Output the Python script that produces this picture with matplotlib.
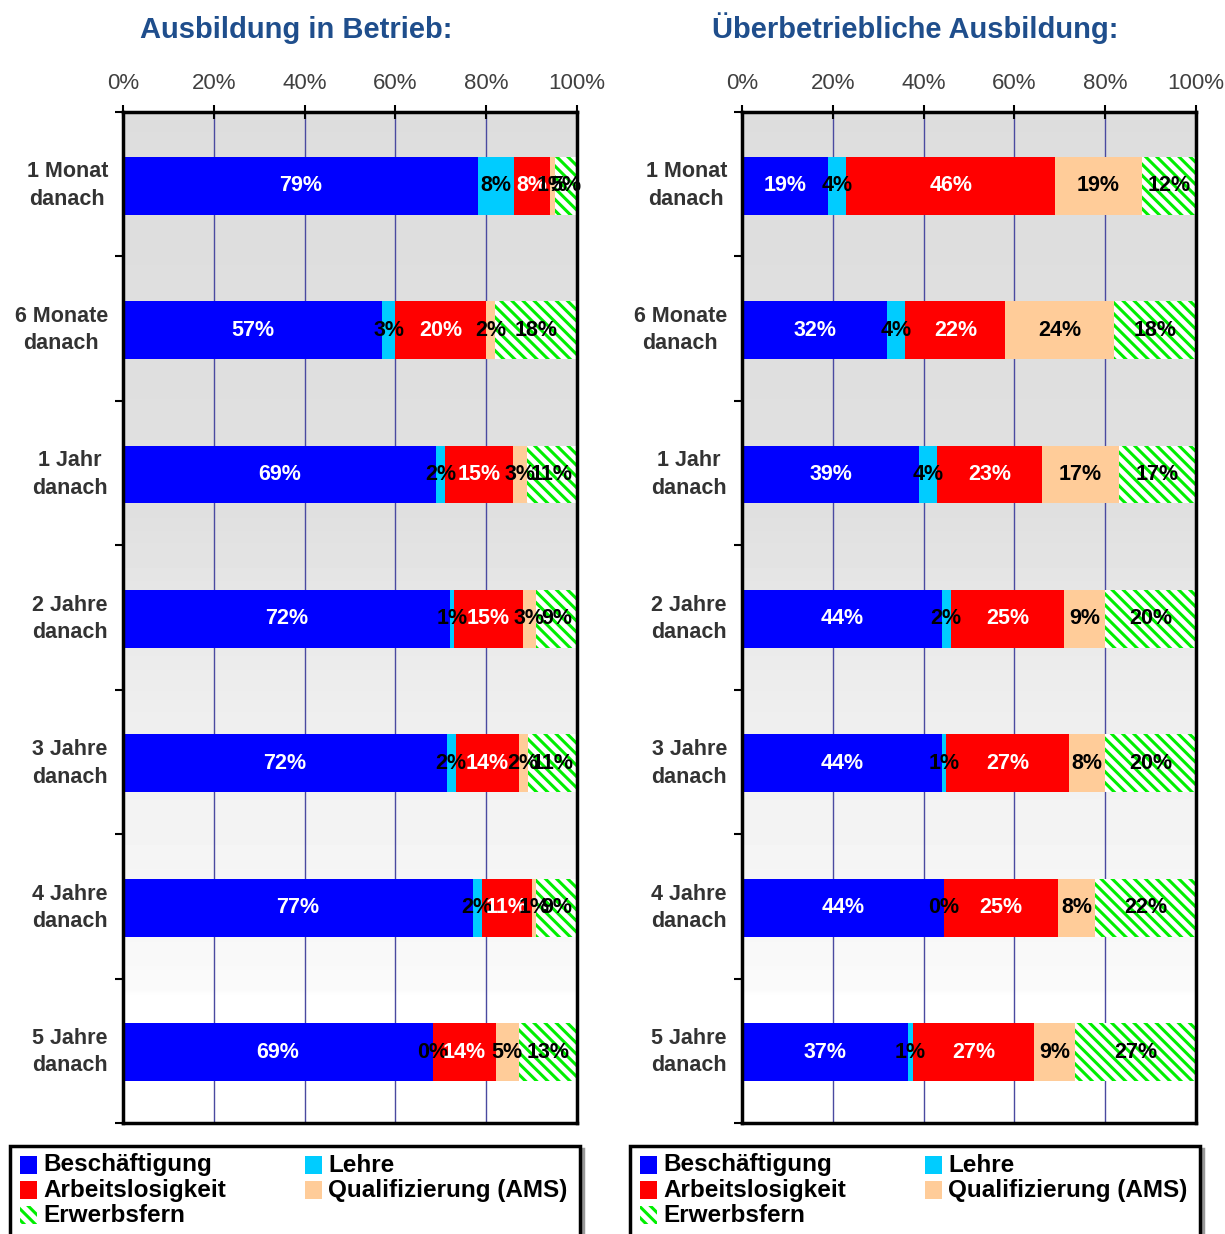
import numpy as np
import matplotlib.pyplot as plt
from matplotlib.patches import Rectangle

plt.rcParams['font.family'] = ['Liberation Sans', 'DejaVu Sans']
plt.rcParams['hatch.linewidth'] = 2.2

kategorien = ['1 Monat\ndanach', '6 Monate\ndanach', '1 Jahr\ndanach', '2 Jahre\ndanach',
              '3 Jahre\ndanach', '4 Jahre\ndanach', '5 Jahre\ndanach']
serien = ['Beschäftigung', 'Lehre', 'Arbeitslosigkeit', 'Qualifizierung (AMS)', 'Erwerbsfern']

# Anteile in %, je Zeile: Beschäftigung, Lehre, Arbeitslosigkeit, Qualifizierung, Erwerbsfern
betrieb = [[79, 8, 8, 1, 5],
           [57, 3, 20, 2, 18],
           [69, 2, 15, 3, 11],
           [72, 1, 15, 3, 9],
           [72, 2, 14, 2, 11],
           [77, 2, 11, 1, 9],
           [69, 0, 14, 5, 13]]
ueberbetrieblich = [[19, 4, 46, 19, 12],
                    [32, 4, 22, 24, 18],
                    [39, 4, 23, 17, 17],
                    [44, 2, 25, 9, 20],
                    [44, 1, 27, 8, 20],
                    [44, 0, 25, 8, 22],
                    [37, 1, 27, 9, 27]]
titel = ['Ausbildung in Betrieb:', 'Überbetriebliche Ausbildung:']
xticks = [0, 20, 40, 60, 80, 100]

farben = ['#0000ff', '#00ccff', '#ff0000', '#ffcc99', 'white']
kanten = ['none', 'none', 'none', 'none', '#00ee00']
hatches = [None, None, None, None, '\\\\\\']
textfarben = ['white', 'black', 'white', 'black', 'black']

W, H = 1225, 1234
fig = plt.figure(figsize=(W / 100, H / 100), dpi=100)

# background gradient (grey top -> white bottom)
stops_y = [0, 0.40, 0.55, 0.70, 0.87, 0.875, 1.0]
stops_v = [0xdd, 0xe0, 0xec, 0xf3, 0xfa, 0xff, 0xff]
yy = np.linspace(0, 1, 300)
grad = np.interp(yy, stops_y, stops_v) / 255.0
grad_img = np.repeat(grad[:, None], 2, axis=1)

def panel(x0px, daten, title, title_cx):
    ax = fig.add_axes([x0px / W, (H - 1123) / H, 454 / W, 1011 / H])
    ax.imshow(grad_img, extent=[0, 100, 7, 0], aspect='auto', cmap='gray',
              vmin=0, vmax=1, zorder=0, interpolation='bilinear')
    ax.set_xlim(0, 100)
    ax.set_ylim(7, 0)
    for g in xticks[1:-1]:
        ax.axvline(g, color='#4a4aa0', lw=1, zorder=1)
    d = np.array(daten, dtype=float)
    d = d / d.sum(axis=1, keepdims=True) * 100
    ypos = np.arange(len(kategorien)) + 0.51
    left = np.zeros(len(kategorien))
    for j in range(len(serien)):
        ax.barh(ypos, d[:, j], left=left, height=0.4, color=farben[j],
                hatch=hatches[j], edgecolor=kanten[j], lw=0, zorder=2)
        for i in range(len(kategorien)):
            ax.text(left[i] + d[i, j] / 2, ypos[i], f'{daten[i][j]}%',
                    ha='center', va='center', fontsize=15.5, fontweight='bold',
                    color=textfarben[j], zorder=3)
        left += d[:, j]
    ax.xaxis.tick_top()
    ax.set_xticks(xticks)
    ax.set_xticklabels([f'{t}%' for t in xticks], fontsize=16, color='#404040')
    ax.tick_params(axis='x', direction='inout', length=10, width=1.5, pad=8)
    ax.set_yticks(range(8))
    ax.set_yticklabels([])
    ax.tick_params(axis='y', direction='out', length=6, width=1.5)
    for s in ax.spines.values():
        s.set_linewidth(2.5)
        s.set_color('black')
        s.set_zorder(5)
    for i, k in enumerate(kategorien):
        ax.text(-15 / 454 * 100, ypos[i], k, ha='right', va='center', multialignment='center',
                fontsize=15.5, fontweight='bold', color='#333333', linespacing=1.4)
    fig.text(title_cx / W, 1 - 38 / H, title, ha='center', va='baseline', fontsize=21,
             fontweight='bold', color='#1f4e8c')

panel(123, betrieb, titel[0], 296)
panel(742, ueberbetrieblich, titel[1], 915)

# legends drawn in pixel coordinates
lg = fig.add_axes([0, 0, 1, 1], zorder=10)
lg.set_xlim(0, W)
lg.set_ylim(H, 0)
lg.axis('off')
eintraege = [(0, 0, 0), (1, 1, 0), (2, 0, 1), (3, 1, 1), (4, 0, 2)]
for bx in [10, 630]:
    lg.add_patch(Rectangle((bx + 3, 1149), 570, 120, fill=False, ec='#999999', lw=2.5))
    lg.add_patch(Rectangle((bx, 1146), 570, 120, fc='white', ec='black', lw=2.5))
    for j, col, row in eintraege:
        px = bx + 10 + col * 285
        py = 1165 + row * 25
        lg.add_patch(Rectangle((px, py - 9), 17, 18, fc=farben[j], hatch=hatches[j],
                               ec=kanten[j], lw=0))
        lg.text(px + 23, py, serien[j], ha='left', va='center', fontsize=17.5,
                fontweight='bold', color='black')

fig.savefig('out.png', dpi=100)
